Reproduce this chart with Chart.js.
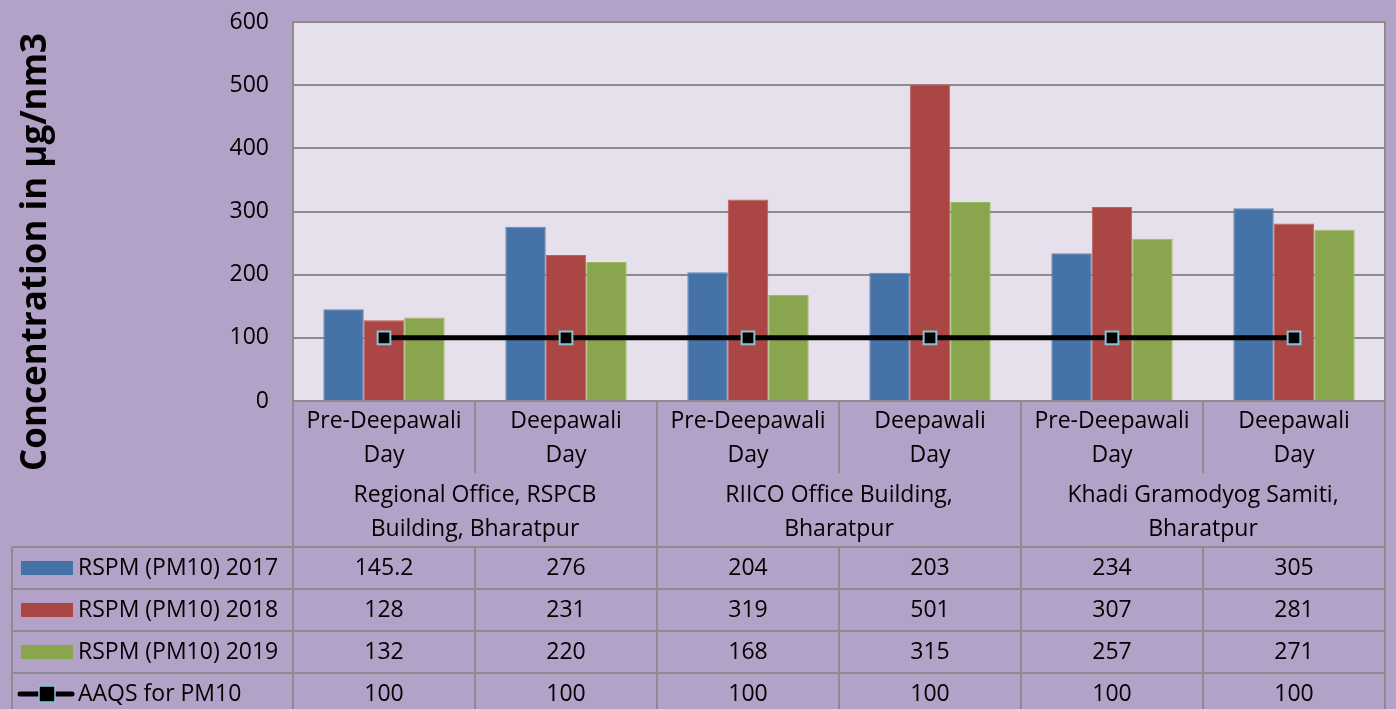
<!DOCTYPE html>
<html>
<head>
<meta charset="utf-8">
<script src="https://cdn.jsdelivr.net/npm/chart.js@4.4.1/dist/chart.umd.min.js"></script>
<style>
  html, body { margin: 0; padding: 0; background: #B3A2C7; }
  #wrap { width: 1396px; height: 709px; position: relative; }
</style>
</head>
<body>
<div id="wrap"><canvas id="pmChart"></canvas></div>
<script>
// categories and their two-line labels
const dayLabels = [
  ['Pre-Deepawali', 'Day'], ['Deepawali', 'Day'],
  ['Pre-Deepawali', 'Day'], ['Deepawali', 'Day'],
  ['Pre-Deepawali', 'Day'], ['Deepawali', 'Day']
];
const siteLabels = [
  ['Regional Office, RSPCB', 'Building, Bharatpur'],
  ['RIICO Office Building,', 'Bharatpur'],
  ['Khadi Gramodyog Samiti,', 'Bharatpur']
];
const seriesNames = ['RSPM (PM10) 2017', 'RSPM (PM10) 2018', 'RSPM (PM10) 2019', 'AAQS for PM10'];
const pm2017 = [145.2, 276, 204, 203, 234, 305];
const pm2018 = [128, 231, 319, 501, 307, 281];
const pm2019 = [132, 220, 168, 315, 257, 271];
const aaqs = [100, 100, 100, 100, 100, 100];
const yTicks = [0, 100, 200, 300, 400, 500, 600];
const yTitle = 'Concentration in µg/nm3';

const FONT = '"Open Sans", "Noto Sans", sans-serif';
const gridCol = '#8C8C8C';

// draws the plot background, border, axis title and the data table under the chart
const tablePlugin = {
  id: 'tablePlugin',
  beforeDraw(chart) {
    const { ctx, chartArea: a } = chart;
    ctx.save();
    ctx.fillStyle = '#E6E0EC';
    ctx.fillRect(a.left, a.top, a.right - a.left, a.bottom - a.top);
    ctx.restore();
  },
  afterDraw(chart) {
    const { ctx, chartArea: a } = chart;
    const x = chart.scales.x;
    const n = dayLabels.length;
    const cw = (a.right - a.left) / n;
    const edge = i => a.left + i * cw;
    const r1 = a.bottom + 72;   // bottom of day-label row
    const r2 = a.bottom + 146;  // bottom of site-label row
    const rowH = 42;
    const tableLeft = 12;
    const tableBottom = r2 + rowH * 4;

    ctx.save();
    // y axis title
    ctx.save();
    ctx.translate(36, 252);
    ctx.rotate(-Math.PI / 2);
    ctx.font = 'bold 35px ' + FONT;
    ctx.fillStyle = '#000';
    ctx.textAlign = 'center';
    ctx.textBaseline = 'middle';
    ctx.fillText(yTitle, 0, 0);
    ctx.restore();

    ctx.strokeStyle = gridCol;
    ctx.lineWidth = 2;
    // plot border
    ctx.strokeRect(a.left, a.top, a.right - a.left, a.bottom - a.top);
    ctx.beginPath();
    ctx.moveTo(a.left, a.bottom); ctx.lineTo(a.left, tableBottom);
    ctx.moveTo(a.right, a.bottom); ctx.lineTo(a.right, tableBottom);
    ctx.moveTo(tableLeft, r2); ctx.lineTo(tableLeft, tableBottom);
    for (let i = 1; i < n; i++) {
      const ex = edge(i);
      if (i % 2 === 0) { ctx.moveTo(ex, a.bottom); ctx.lineTo(ex, tableBottom); }
      else { ctx.moveTo(ex, a.bottom); ctx.lineTo(ex, r1); ctx.moveTo(ex, r2); ctx.lineTo(ex, tableBottom); }
    }
    for (let k = 0; k <= 4; k++) {
      const yy = r2 + k * rowH;
      ctx.moveTo(tableLeft, yy); ctx.lineTo(a.right, yy);
    }
    ctx.stroke();

    ctx.fillStyle = '#000';
    ctx.font = '23px ' + FONT;
    ctx.textAlign = 'center';
    ctx.textBaseline = 'middle';
    dayLabels.forEach((lines, i) => {
      const cx = x.getPixelForValue(i);
      lines.forEach((t, j) => ctx.fillText(t, cx, a.bottom + 20 + j * 34));
    });
    siteLabels.forEach((lines, g) => {
      const cx = (edge(g * 2) + edge(g * 2 + 2)) / 2;
      lines.forEach((t, j) => ctx.fillText(t, cx, r1 + 22 + j * 34));
    });

    // data rows with legend keys
    chart.data.datasets.forEach((ds, k) => {
      const cy = r2 + k * rowH + rowH / 2;
      ds.data.forEach((v, i) => {
        ctx.fillStyle = '#000';
        ctx.textAlign = 'center';
        ctx.fillText(String(v), x.getPixelForValue(i), cy);
      });
      if (ds.type === 'line') {
        ctx.strokeStyle = ds.borderColor;
        ctx.lineWidth = 5;
        ctx.lineCap = 'round';
        ctx.beginPath(); ctx.moveTo(20, cy); ctx.lineTo(72, cy); ctx.stroke();
        ctx.fillStyle = ds.pointBackgroundColor;
        ctx.fillRect(39, cy - 8, 16, 16);
        ctx.strokeStyle = ds.pointBorderColor;
        ctx.lineWidth = 1.5;
        ctx.strokeRect(39, cy - 8, 16, 16);
      } else {
        ctx.fillStyle = ds.backgroundColor;
        ctx.fillRect(21, cy - 7, 52, 14);
      }
      ctx.fillStyle = '#000';
      ctx.textAlign = 'left';
      ctx.fillText(ds.label, 78, cy);
    });
    ctx.restore();
  }
};

new Chart(document.getElementById('pmChart'), {
  type: 'bar',
  data: {
    labels: dayLabels,
    datasets: [
      { label: seriesNames[0], data: pm2017, order: 1, backgroundColor: '#4572A7', borderColor: '#5A86BD', borderWidth: 1 },
      { label: seriesNames[1], data: pm2018, order: 1, backgroundColor: '#AA4643', borderColor: '#BE5D5A', borderWidth: 1 },
      { label: seriesNames[2], data: pm2019, order: 1, backgroundColor: '#89A54E', borderColor: '#9DBA62', borderWidth: 1 },
      { label: seriesNames[3], type: 'line', data: aaqs, order: 0,
        borderColor: '#000', borderWidth: 5,
        pointStyle: 'rect', pointRadius: 9, pointHoverRadius: 9,
        pointBackgroundColor: '#000', pointBorderColor: '#86C5D8', pointBorderWidth: 2 }
    ]
  },
  options: {
    responsive: true,
    maintainAspectRatio: false,
    animation: false,
    layout: { padding: { top: 22, right: 5, bottom: 308, left: 0 } },
    datasets: { bar: { categoryPercentage: 0.667, barPercentage: 1 } },
    plugins: { legend: { display: false }, tooltip: { enabled: false } },
    scales: {
      x: { display: false, grid: { display: false } },
      y: {
        min: 0, max: 600,
        afterFit(s) { s.width = 293; s.paddingTop = 0; s.paddingBottom = 0; },
        afterBuildTicks(s) { s.ticks = yTicks.map(v => ({ value: v })); },
        grid: { color: gridCol, lineWidth: 2, drawTicks: false },
        border: { display: true, color: gridCol, width: 2 },
        ticks: { padding: 24, color: '#000', font: { family: FONT, size: 23 } }
      }
    }
  },
  plugins: [tablePlugin]
});
</script>
</body>
</html>
